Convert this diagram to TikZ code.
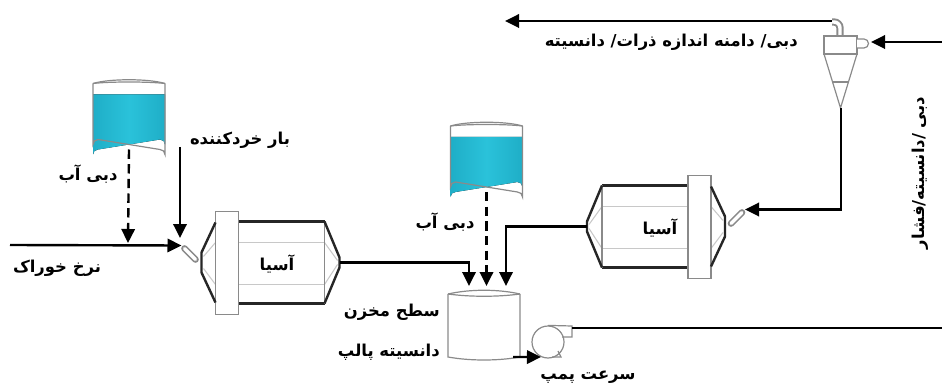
\documentclass[tikz,border=0pt]{standalone}
\usepackage{fontspec}
\newfontfamily\fa[Script=Arabic]{DejaVu Sans}
\TeXXeTstate=1
\usetikzlibrary{arrows.meta,calc}
\newcommand\fatext[1]{\beginR#1\endR}
\definecolor{millgray}{HTML}{262626}
\definecolor{lightgray}{HTML}{C8C8C8}
\definecolor{partgray}{HTML}{8A8A8A}
\definecolor{watermid}{HTML}{2AC2DA}
\definecolor{wateredge}{HTML}{1FAEC7}
\tikzset{
  lab/.style={font=\fa\bfseries\fontsize{12.3}{14}\selectfont, inner sep=0pt},
  flow/.style={line width=1.8pt, -{Triangle[length=10.5pt,width=10pt]}},
  pipe/.style={line width=1.8pt},
  water/.style={flow, dash pattern=on 7pt off 4pt},
  millline/.style={draw=millgray, line width=1.8pt, line join=round},
  thinline/.style={draw=lightgray, line width=0.8pt},
  partline/.style={draw=partgray, line width=0.9pt},
  % ball mill with the feed chute on its left (flange side)
  mill/.pic={
    \draw[thinline] (-43,-20) -- (43,-20) (-43,22) -- (43,22);
    \draw[thinline] (43,-20) -- (56,-2) (43,22) -- (56,2);
    \draw[thinline] (-66,-20) -- (-78,-6) (-66,22) -- (-78,6);
    \draw[millline] (-43,-41) -- (43,-41) (-43,41) -- (43,41);
    \draw[partline] (43,-41) -- (43,41);
    \draw[millline] (43,-41) -- (58,-5) -- (58,5) -- (43,41);
    \draw[partline, fill=white] (-66,-51) rectangle (-43,52);
    \draw[millline] (-66,-40) -- (-80,-10) -- (-80,10) -- (-66,40);
    \draw[partgray, line width=5pt, line cap=round] (-97,-14) -- (-86,-3);
    \draw[white, line width=2.6pt, line cap=round] (-97,-14) -- (-86,-3);
    \coordinate (-out) at (58,0);
    \coordinate (-feed) at (-100,-17);
  },
  % open water tank
  beaker/.pic={
    \fill[left color=wateredge, right color=wateredge, middle color=watermid]
      (-36,-20) -- (36,-20) -- (36,30) arc[start angle=0,end angle=-90,radius=5]
      -- (-31,35) arc[start angle=-90,end angle=-180,radius=5] -- cycle;
    \draw[partline] (-36,-31) -- (-36,30) arc[start angle=180,end angle=270,radius=5]
      -- (31,35) arc[start angle=-90,end angle=0,radius=5] -- (36,-31);
    \draw[partline] (-36,-31) .. controls (-20,-36) and (20,-36) .. (36,-31);
    \draw[partline] (-36,-31) .. controls (-20,-33) and (20,-33) .. (36,-31);
    \coordinate (-bot) at (0,35);
  }
}
\begin{document}
\begin{tikzpicture}[x=0.75pt,y=-0.75pt]
\useasboundingbox (0,0) rectangle (942,392);

% ---------- equipment ----------
\pic (lm) at (281.5,262.5) {mill};
\pic[xscale=-1] (rm) at (645,226.5) {mill};
\pic (wt1) at (129,114.5) {beaker};
\pic (wt2) at (486.5,157) {beaker};

% sump
\draw[partline] (448,294) -- (448,357) .. controls (470,361) and (498,361) .. (520,357) -- (520,294);
\draw[partline] (448,294) .. controls (470,289) and (498,289) .. (520,294);
\draw[partline] (448,294) .. controls (470,297) and (498,297) .. (520,294);
\coordinate (sumpout) at (513,357);
\coordinate (sumpinA) at (469,286);
\coordinate (sumpinB) at (486.5,286);
\coordinate (sumpinC) at (506,286);

% pump
\node[circle, draw=partgray, line width=0.9pt, minimum size=24pt, inner sep=0pt] (pump) at (548,342) {};
\draw[partline] (pump.north) -- (572,326) -- (572,337) -- (562,337);
\draw[partline] (552,357) -- (561,357) -- (558,351);
\coordinate (pumpout) at (572,328);

% hydrocyclone
\draw[partgray, line width=5.5pt] (840,36) -- (840,28) arc[start angle=0,end angle=-90,radius=6] -- (832,22);
\draw[white, line width=2.6pt] (840,36.5) -- (840,28) arc[start angle=0,end angle=-90,radius=6] -- (831,22);
\draw[partline, fill=white] (824,36) rectangle (857,54);
\draw[partline] (824,54) -- (840.5,108) -- (857,54);
\draw[partline] (832,82) -- (849,82);
\draw[partline, fill=white] (857,39) -- (864,39) arc[start angle=-90,end angle=90,radius=4.5] -- (857,48);
\coordinate (cyctop) at (832,21);
\coordinate (cycbot) at (841,108);
\coordinate (cycin) at (871,42);

% ---------- free ends ----------
\coordinate (feedsrc) at (10,245);
\coordinate (crushsrc) at (180,147);
\coordinate (ofend) at (505,21);
\coordinate (cycsrc) at (942,42);
\coordinate (pumpend) at (942,328);

% ---------- streams ----------
\draw[flow] (feedsrc) -- (lm-feed);
\draw[flow] (crushsrc) -- (180,238);
\draw[water] (wt1-bot) -- (128,243);
\draw[flow] (lm-out) -| (sumpinA);
\draw[water] (wt2-bot) -- (sumpinB);
\draw[flow] (rm-out) -| (sumpinC);
\draw[flow] (sumpout) -- (pump.245);
\draw[pipe] (pumpout) -- (pumpend);
\draw[flow] (cycsrc) -- (cycin);
\draw[flow] (cycbot) |- (rm-feed);
\draw[flow] (cyctop) -- (ofend);

% ---------- labels ----------
\node[lab] (tcrush) at (240,140) {\fatext{بار خردکننده}};
\node[lab] (twater1) at (88,174) {\fatext{دبی آب}};
\node[lab] (tfeed) at (57,268) {\fatext{نرخ خوراک}};
\node[lab] (tmill1) at (277,264) {\fatext{آسیا}};
\node[lab] (twater2) at (445,222) {\fatext{دبی آب}};
\node[lab, anchor=east] (tlevel) at (440,312) {\fatext{سطح مخزن}};
\node[lab, anchor=east] (tdens) at (440,352) {\fatext{دانسیته پالپ}};
\node[lab] (tpump) at (588,377) {\fatext{سرعت پمپ}};
\node[lab] (tmill2) at (660,228) {\fatext{آسیا}};
\node[lab, anchor=east] (tover) at (798,42) {\fatext{دبی/ دامنه اندازه ذرات/ دانسیته}};
\node[lab, rotate=90] (tunder) at (920,173) {\fatext{دبی /دانسیته/فشار}};
\end{tikzpicture}
\end{document}
